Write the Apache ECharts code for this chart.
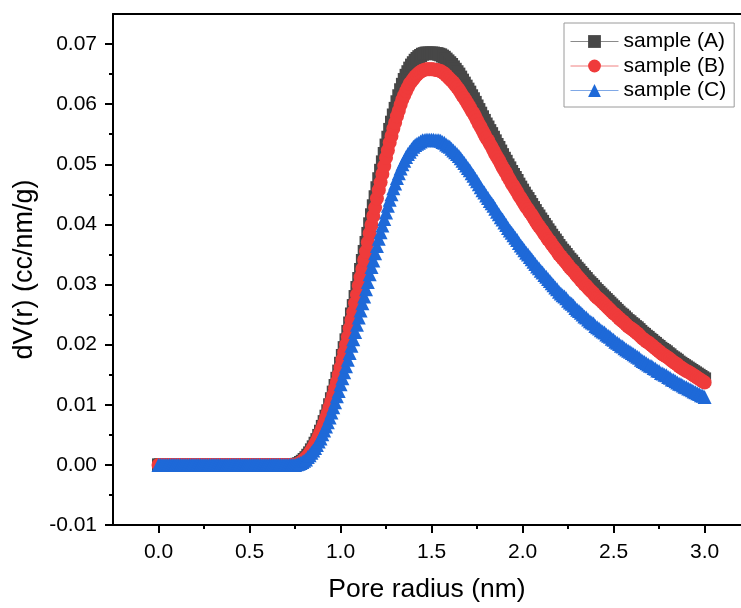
<!DOCTYPE html>
<html>
<head>
<meta charset="utf-8">
<script src="https://cdn.jsdelivr.net/npm/echarts@6/dist/echarts.min.js"></script>
<style>
html,body{margin:0;padding:0;background:#fff;}
#chart{width:741px;height:608px;}
</style>
</head>
<body>
<div id="chart"></div>
<script>
// Pore radius (nm)
const radius = [
0.00,0.01,0.02,0.03,0.04,0.05,0.06,0.07,0.08,0.09,
0.10,0.11,0.12,0.13,0.14,0.15,0.16,0.17,0.18,0.19,
0.20,0.21,0.22,0.23,0.24,0.25,0.26,0.27,0.28,0.29,
0.30,0.31,0.32,0.33,0.34,0.35,0.36,0.37,0.38,0.39,
0.40,0.41,0.42,0.43,0.44,0.45,0.46,0.47,0.48,0.49,
0.50,0.51,0.52,0.53,0.54,0.55,0.56,0.57,0.58,0.59,
0.60,0.61,0.62,0.63,0.64,0.65,0.66,0.67,0.68,0.69,
0.70,0.71,0.72,0.73,0.74,
0.75,0.76,0.77,0.78,0.79,0.80,0.81,0.82,0.83,0.84,
0.85,0.86,0.87,0.88,0.89,0.90,0.91,0.92,0.93,0.94,
0.95,0.96,0.97,0.98,0.99,1.00,1.01,1.02,1.03,1.04,
1.05,1.06,1.07,1.08,1.09,1.10,1.11,1.12,1.13,1.14,
1.15,1.16,1.17,1.18,1.19,1.20,1.21,1.22,1.23,1.24,
1.25,1.26,1.27,1.28,1.29,1.30,1.31,1.32,1.33,1.34,
1.35,1.36,1.37,1.38,1.39,1.40,1.41,1.42,1.43,1.44,
1.45,1.46,1.47,1.48,1.49,1.50,1.51,1.52,1.53,1.54,
1.55,1.56,1.57,1.58,1.59,1.60,1.61,1.62,1.63,1.64,
1.65,1.66,1.67,1.68,1.69,1.70,1.71,1.72,1.73,1.74,
1.75,1.76,1.77,1.78,1.79,1.80,1.81,1.82,1.83,1.84,
1.85,1.86,1.87,1.88,1.89,1.90,1.91,1.92,1.93,1.94,
1.95,1.96,1.97,1.98,1.99,2.00,2.01,2.02,2.03,2.04,
2.05,2.06,2.07,2.08,2.09,2.10,2.11,2.12,2.13,2.14,
2.15,2.16,2.17,2.18,2.19,2.20,2.21,2.22,2.23,2.24,
2.25,2.26,2.27,2.28,2.29,2.30,2.31,2.32,2.33,2.34,
2.35,2.36,2.37,2.38,2.39,2.40,2.41,2.42,2.43,2.44,
2.45,2.46,2.47,2.48,2.49,2.50,2.51,2.52,2.53,2.54,
2.55,2.56,2.57,2.58,2.59,2.60,2.61,2.62,2.63,2.64,
2.65,2.66,2.67,2.68,2.69,2.70,2.71,2.72,2.73,2.74,
2.75,2.76,2.77,2.78,2.79,2.80,2.81,2.82,2.83,2.84,
2.85,2.86,2.87,2.88,2.89,2.90,2.91,2.92,2.93,2.94,
2.95,2.96,2.97,2.98,2.99,3.00
];
// dV(r) (cc/nm/g)
const sampleA = [
0,0,0,0,0,0,0,0,0,0, 0,0,0,0,0,0,0,0,0,0, 0,0,0,0,0,0,0,0,0,0,
0,0,0,0,0,0,0,0,0,0, 0,0,0,0,0,0,0,0,0,0, 0,0,0,0,0,0,0,0,0,0,
0,0,0,0,0,0,0,0,0,0, 0,0,0,0,0,
0,0.0001,0.0002,0.0004,0.0006,0.0009,0.0012,0.0016,0.0020,0.0025,
0.0030,0.0036,0.0042,0.0049,0.0056,0.0064,0.0072,0.0081,0.0090,0.0100,
0.0110,0.0121,0.0132,0.0144,0.0156,0.0169,0.0182,0.0195,0.0208,0.0222,
0.0236,0.0251,0.0265,0.0280,0.0295,0.0310,0.0325,0.0340,0.0355,0.0370,
0.0385,0.0401,0.0416,0.0431,0.0446,0.0461,0.0476,0.0490,0.0504,0.0518,
0.0532,0.0545,0.0558,0.0570,0.0582,0.0593,0.0604,0.0614,0.0624,0.0633,
0.0641,0.0648,0.0654,0.0660,0.0665,0.0669,0.0673,0.0676,0.0679,0.0681,
0.0683,0.0684,0.0685,0.0685,0.0685,0.0685,0.0685,0.0684,0.0684,0.0683,
0.0682,0.0680,0.0678,0.0675,0.0672,0.0669,0.0666,0.0662,0.0658,0.0654,
0.0650,0.0645,0.0640,0.0635,0.0630,0.0625,0.0620,0.0614,0.0609,0.0603,
0.0597,0.0591,0.0585,0.0579,0.0573,0.0567,0.0562,0.0556,0.0551,0.0545,
0.0539,0.0533,0.0528,0.0522,0.0516,0.0510,0.0505,0.0499,0.0494,0.0488,
0.0483,0.0478,0.0473,0.0467,0.0462,0.0457,0.0452,0.0447,0.0443,0.0438,
0.0433,0.0428,0.0423,0.0418,0.0414,0.0409,0.0405,0.0400,0.0396,0.0391,
0.0387,0.0382,0.0378,0.0374,0.0370,0.0365,0.0361,0.0357,0.0354,0.0350,
0.0346,0.0342,0.0339,0.0335,0.0331,0.0327,0.0324,0.0320,0.0317,0.0313,
0.0310,0.0306,0.0303,0.0300,0.0297,0.0293,0.0290,0.0287,0.0284,0.0281,
0.0278,0.0275,0.0272,0.0269,0.0266,0.0263,0.0260,0.0257,0.0254,0.0251,
0.0249,0.0246,0.0243,0.0240,0.0238,0.0235,0.0233,0.0230,0.0228,0.0225,
0.0222,0.0219,0.0217,0.0214,0.0212,0.0209,0.0207,0.0204,0.0202,0.0199,
0.0197,0.0194,0.0192,0.0190,0.0188,0.0185,0.0183,0.0180,0.0178,0.0176,
0.0174,0.0171,0.0169,0.0167,0.0165,0.0163,0.0161,0.0159,0.0157,0.0155,
0.0153,0.0151,0.0149,0.0147,0.0145,0.0143
];
const sampleB = [
0,0,0,0,0,0,0,0,0,0, 0,0,0,0,0,0,0,0,0,0, 0,0,0,0,0,0,0,0,0,0,
0,0,0,0,0,0,0,0,0,0, 0,0,0,0,0,0,0,0,0,0, 0,0,0,0,0,0,0,0,0,0,
0,0,0,0,0,0,0,0,0,0, 0,0,0,0,0,
0,0.0001,0.0002,0.0004,0.0006,0.0009,0.0012,0.0015,0.0019,0.0024,
0.0029,0.0035,0.0040,0.0047,0.0054,0.0061,0.0069,0.0078,0.0086,0.0096,
0.0106,0.0116,0.0127,0.0138,0.0150,0.0162,0.0175,0.0187,0.0200,0.0213,
0.0227,0.0241,0.0254,0.0269,0.0283,0.0298,0.0312,0.0326,0.0341,0.0355,
0.0370,0.0385,0.0399,0.0414,0.0428,0.0443,0.0457,0.0470,0.0484,0.0497,
0.0511,0.0523,0.0536,0.0547,0.0559,0.0569,0.0580,0.0589,0.0599,0.0608,
0.0615,0.0622,0.0628,0.0634,0.0638,0.0642,0.0646,0.0649,0.0652,0.0654,
0.0656,0.0657,0.0658,0.0658,0.0658,0.0658,0.0658,0.0657,0.0657,0.0656,
0.0655,0.0653,0.0651,0.0648,0.0645,0.0642,0.0639,0.0636,0.0632,0.0628,
0.0624,0.0619,0.0614,0.0610,0.0605,0.0600,0.0595,0.0589,0.0585,0.0579,
0.0573,0.0567,0.0562,0.0556,0.0550,0.0544,0.0540,0.0534,0.0529,0.0523,
0.0517,0.0512,0.0507,0.0501,0.0495,0.0490,0.0485,0.0479,0.0474,0.0468,
0.0464,0.0459,0.0454,0.0448,0.0444,0.0439,0.0434,0.0429,0.0425,0.0420,
0.0416,0.0411,0.0406,0.0401,0.0397,0.0393,0.0389,0.0384,0.0380,0.0375,
0.0372,0.0367,0.0363,0.0359,0.0355,0.0350,0.0347,0.0343,0.0340,0.0336,
0.0332,0.0328,0.0325,0.0322,0.0318,0.0314,0.0311,0.0307,0.0304,0.0300,
0.0298,0.0294,0.0291,0.0288,0.0285,0.0281,0.0278,0.0276,0.0273,0.0270,
0.0267,0.0264,0.0261,0.0258,0.0255,0.0252,0.0250,0.0247,0.0244,0.0241,
0.0239,0.0236,0.0233,0.0230,0.0228,0.0226,0.0224,0.0221,0.0219,0.0216,
0.0213,0.0210,0.0208,0.0205,0.0204,0.0201,0.0199,0.0196,0.0194,0.0191,
0.0189,0.0186,0.0184,0.0182,0.0180,0.0178,0.0176,0.0173,0.0171,0.0169,
0.0167,0.0164,0.0162,0.0160,0.0158,0.0156,0.0155,0.0153,0.0151,0.0149,
0.0147,0.0145,0.0143,0.0141,0.0139,0.0137
];
const sampleC = [
0,0,0,0,0,0,0,0,0,0, 0,0,0,0,0,0,0,0,0,0, 0,0,0,0,0,0,0,0,0,0,
0,0,0,0,0,0,0,0,0,0, 0,0,0,0,0,0,0,0,0,0, 0,0,0,0,0,0,0,0,0,0,
0,0,0,0,0,0,0,0,0,0, 0,0,0,0,0,
0,0.0001,0.0002,0.0003,0.0005,0.0007,0.0009,0.0013,0.0016,0.0020,
0.0024,0.0028,0.0033,0.0039,0.0044,0.0051,0.0057,0.0064,0.0071,0.0079,
0.0087,0.0096,0.0104,0.0114,0.0123,0.0134,0.0144,0.0154,0.0164,0.0175,
0.0186,0.0198,0.0209,0.0221,0.0233,0.0245,0.0257,0.0269,0.0280,0.0292,
0.0304,0.0317,0.0329,0.0340,0.0352,0.0364,0.0376,0.0387,0.0398,0.0409,
0.0420,0.0431,0.0441,0.0450,0.0460,0.0468,0.0477,0.0485,0.0493,0.0500,
0.0506,0.0512,0.0517,0.0521,0.0525,0.0529,0.0532,0.0534,0.0536,0.0538,
0.0540,0.0540,0.0541,0.0541,0.0541,0.0541,0.0541,0.0540,0.0540,0.0540,
0.0539,0.0537,0.0536,0.0533,0.0531,0.0529,0.0526,0.0523,0.0520,0.0517,
0.0514,0.0510,0.0506,0.0502,0.0498,0.0494,0.0490,0.0485,0.0481,0.0476,
0.0472,0.0467,0.0462,0.0457,0.0453,0.0448,0.0444,0.0439,0.0435,0.0431,
0.0426,0.0421,0.0417,0.0412,0.0408,0.0403,0.0399,0.0394,0.0390,0.0386,
0.0382,0.0378,0.0374,0.0369,0.0365,0.0361,0.0357,0.0353,0.0350,0.0346,
0.0342,0.0338,0.0334,0.0330,0.0327,0.0323,0.0320,0.0316,0.0313,0.0309,
0.0306,0.0302,0.0299,0.0295,0.0292,0.0288,0.0285,0.0282,0.0280,0.0277,
0.0273,0.0270,0.0268,0.0265,0.0261,0.0258,0.0256,0.0253,0.0250,0.0247,
0.0245,0.0242,0.0239,0.0237,0.0235,0.0231,0.0229,0.0227,0.0224,0.0222,
0.0220,0.0217,0.0215,0.0213,0.0210,0.0208,0.0205,0.0203,0.0201,0.0198,
0.0197,0.0194,0.0192,0.0190,0.0188,0.0186,0.0184,0.0182,0.0180,0.0178,
0.0175,0.0173,0.0171,0.0169,0.0167,0.0165,0.0164,0.0161,0.0160,0.0157,
0.0156,0.0153,0.0152,0.0150,0.0149,0.0146,0.0145,0.0142,0.0141,0.0139,
0.0137,0.0135,0.0134,0.0132,0.0130,0.0129,0.0127,0.0126,0.0124,0.0122,
0.0121,0.0119,0.0118,0.0116,0.0115,0.0113
];
const seriesNames = ['sample (A)', 'sample (B)', 'sample (C)'];
const xMajorTicks = [0, 0.5, 1.0, 1.5, 2.0, 2.5, 3.0];
const xMinorTicks = [0.25, 0.75, 1.25, 1.75, 2.25, 2.75];
const yMajorTicks = [-0.01, 0, 0.01, 0.02, 0.03, 0.04, 0.05, 0.06, 0.07];
const yMinorTicks = [-0.005, 0.005, 0.015, 0.025, 0.035, 0.045, 0.055, 0.065];

const FONT = "'Liberation Sans', Arial, sans-serif";
const colors = ['#474747', '#ef3b3b', '#1e69d8'];
const legendLineColors = ['#8a8a8a', '#f08080', '#7fa8e6'];
const symbols = ['rect', 'circle', 'triangle'];
const sizes = [13, 14, 14];
const values = [sampleA, sampleB, sampleC];

const chart = echarts.init(document.getElementById('chart'), null, {renderer: 'canvas'});
const X_MIN = -0.25, X_MAX = 3.2, Y_MIN = -0.01, Y_MAX = 0.075;

const option = {
  animation: false,
  backgroundColor: '#fff',
  grid: {left: 113, top: 14, width: 629, height: 514, show: false},
  legend: {
    data: seriesNames.map((n, i) => ({name: n, lineStyle: {color: legendLineColors[i], width: 1}})),
    orient: 'vertical',
    left: 564, top: 23,
    backgroundColor: '#fff',
    borderColor: '#9a9a9a', borderWidth: 1,
    padding: [8, 8, 6, 6],
    itemWidth: 48, itemHeight: 16, itemGap: 3.5,
    textStyle: {fontFamily: FONT, fontSize: 21, color: '#000'}
  },
  xAxis: [
    {
      type: 'value', min: X_MIN, max: X_MAX, position: 'bottom',
      name: 'Pore radius (nm)', nameLocation: 'middle', nameGap: 51,
      nameTextStyle: {fontFamily: FONT, fontSize: 26.5, color: '#000'},
      axisLine: {show: true, onZero: false, lineStyle: {color: '#000', width: 2}},
      axisTick: {show: true, inside: false, length: 8, customValues: xMajorTicks, lineStyle: {color: '#000', width: 2}},
      axisLabel: {show: true, margin: 17, customValues: xMajorTicks, fontFamily: FONT, fontSize: 21, color: '#000',
        formatter: v => v.toFixed(1)},
      splitLine: {show: false}
    },
    {
      type: 'value', min: X_MIN, max: X_MAX, position: 'bottom', gridIndex: 0,
      axisLine: {show: false, onZero: false},
      axisTick: {show: true, inside: false, length: 4, customValues: xMinorTicks, lineStyle: {color: '#000', width: 2}},
      axisLabel: {show: false},
      splitLine: {show: false}
    },
    {
      type: 'value', min: X_MIN, max: X_MAX, position: 'top', gridIndex: 0,
      axisLine: {show: true, onZero: false, lineStyle: {color: '#000', width: 2}},
      axisTick: {show: false},
      axisLabel: {show: false},
      splitLine: {show: false}
    }
  ],
  yAxis: [
    {
      type: 'value', min: Y_MIN, max: Y_MAX, position: 'left',
      name: 'dV(r) (cc/nm/g)', nameLocation: 'middle', nameGap: 61, nameRotate: 90,
      nameTextStyle: {fontFamily: FONT, fontSize: 27, color: '#000'},
      axisLine: {show: true, onZero: false, lineStyle: {color: '#000', width: 2}},
      axisTick: {show: true, inside: false, length: 8, customValues: yMajorTicks, lineStyle: {color: '#000', width: 2}},
      axisLabel: {show: true, margin: 16, customValues: yMajorTicks, fontFamily: FONT, fontSize: 21, color: '#000',
        formatter: v => v.toFixed(2)},
      splitLine: {show: false}
    },
    {
      type: 'value', min: Y_MIN, max: Y_MAX, position: 'left', gridIndex: 0,
      axisLine: {show: false, onZero: false},
      axisTick: {show: true, inside: false, length: 4, customValues: yMinorTicks, lineStyle: {color: '#000', width: 2}},
      axisLabel: {show: false},
      splitLine: {show: false}
    }
  ],
  series: seriesNames.map((name, i) => ({
    name: name,
    type: 'line',
    xAxisIndex: 0, yAxisIndex: 0,
    data: radius.map((r, k) => [r, values[i][k]]),
    symbol: symbols[i],
    symbolSize: sizes[i],
    showSymbol: true,
    showAllSymbol: true,
    color: colors[i],
    itemStyle: {color: colors[i]},
    lineStyle: {color: colors[i], width: 1},
    clip: true,
    emphasis: {disabled: true}
  }))
};
chart.setOption(option);
</script>
</body>
</html>
